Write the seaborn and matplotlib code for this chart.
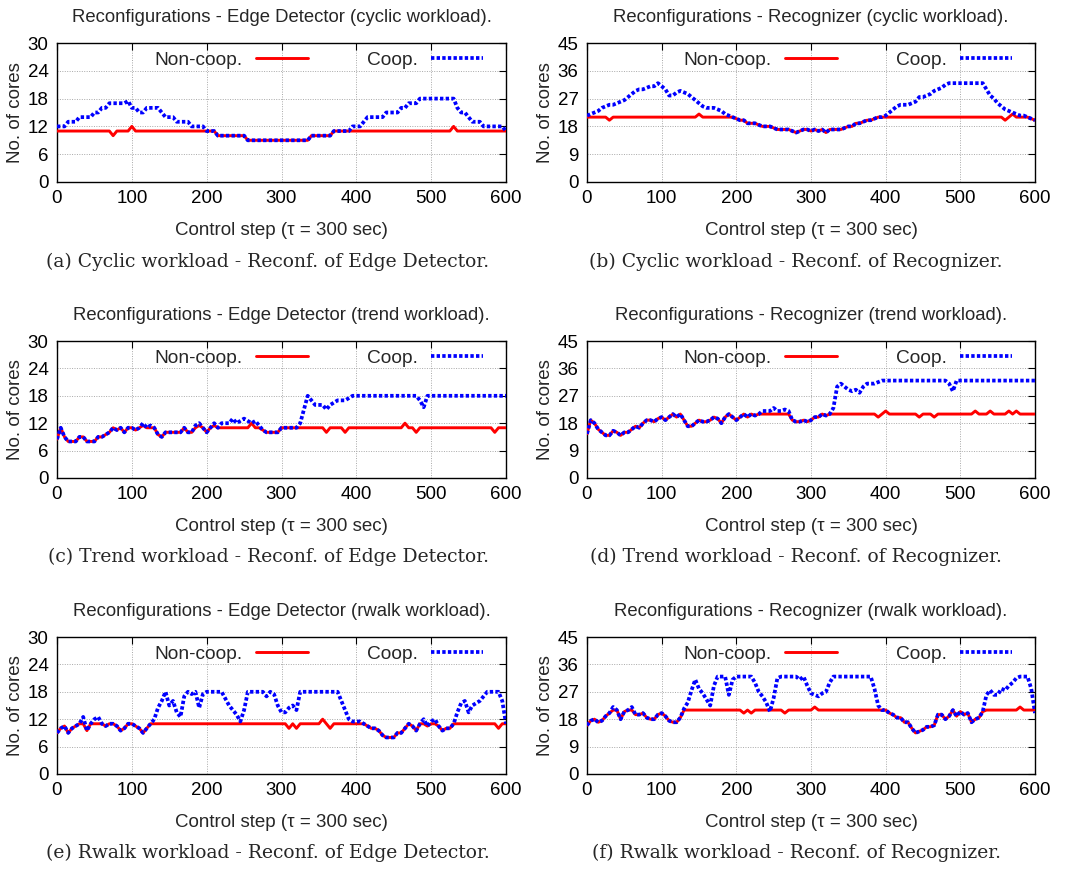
import numpy as np
import pandas as pd
import matplotlib
matplotlib.use("Agg")
import matplotlib.pyplot as plt
import seaborn as sns

# ---------------- data (sampled every 5 control steps) ----------------
steps = np.arange(0, 601, 5)

edge_cyclic_coop = [
    12, 12, 12, 13, 13, 13, 14, 14, 14, 14,
    15, 15, 16, 16, 17, 17, 17, 17, 17, 17.5,
    16, 16, 15, 15, 16, 16, 16, 16, 15, 14,
    14, 14, 13, 13, 13, 13, 12, 12, 12, 12,
    11, 11, 11, 10, 10, 10, 10, 10, 10, 10,
    10, 9, 9, 9, 9, 9, 9, 9, 9, 9,
    9, 9, 9, 9, 9, 9, 9, 9, 10, 10,
    10, 10, 10, 10, 11, 11, 11, 11, 11, 12,
    12, 12, 13, 14, 14, 14, 14, 14, 15, 15,
    15, 15, 16, 16, 17, 17, 17, 18, 18, 18,
    18, 18, 18, 18, 18, 18, 18, 16, 15, 15,
    14, 13, 13, 13, 12, 12, 12, 12, 12, 12,
    11]
edge_cyclic_noncoop = [
    11, 11, 11, 11, 11, 11, 11, 11, 11, 11,
    11, 11, 11, 11, 11, 10, 11, 11, 11, 11,
    12, 11, 11, 11, 11, 11, 11, 11, 11, 11,
    11, 11, 11, 11, 11, 11, 11, 11, 11, 11,
    11, 11, 11, 10, 10, 10, 10, 10, 10, 10,
    10, 9, 9, 9, 9, 9, 9, 9, 9, 9,
    9, 9, 9, 9, 9, 9, 9, 9, 10, 10,
    10, 10, 10, 10, 11, 11, 11, 11, 11, 11,
    11, 11, 11, 11, 11, 11, 11, 11, 11, 11,
    11, 11, 11, 11, 11, 11, 11, 11, 11, 11,
    11, 11, 11, 11, 11, 11, 12, 11, 11, 11,
    11, 11, 11, 11, 11, 11, 11, 11, 11, 11,
    11]

recog_cyclic_coop = [
    21.5, 22, 22.5, 23, 24, 24.5, 25, 25, 25.5, 26,
    26.5, 27.5, 28.5, 29.5, 30, 30, 30.5, 31, 31, 32,
    31, 30, 28, 28, 29, 29.5, 29, 28.5, 27.5, 26.5,
    25.5, 24.5, 24, 24, 24, 23.5, 23, 22, 21.5, 21,
    20.5, 20, 20, 19, 19, 19, 18.5, 18, 18, 18,
    17.5, 17, 17, 17, 17, 16.5, 16, 16.5, 17, 17,
    16.5, 17, 16.5, 17, 16, 17, 17, 17, 17, 17.5,
    18, 18, 19, 19, 19.5, 20, 20, 20.5, 21, 21,
    21.5, 22.5, 23.5, 24.5, 25, 25, 25, 25.5, 26, 27.5,
    27.5, 28, 28.5, 29.5, 30, 30.5, 31.5, 32, 32, 32,
    32, 32, 32, 32, 32, 32, 32, 30, 28, 27,
    25.5, 24.5, 23.5, 23, 22.5, 22, 21.5, 21.5, 21, 20.5,
    20]
recog_cyclic_noncoop = [
    21, 21, 21, 21, 21, 21, 20, 21, 21, 21,
    21, 21, 21, 21, 21, 21, 21, 21, 21, 21,
    21, 21, 21, 21, 21, 21, 21, 21, 21, 21,
    22, 21, 21, 21, 21, 21, 21, 21, 21, 21,
    20.5, 20, 20, 19, 19, 19, 18.5, 18, 18, 18,
    17.5, 17, 17, 17, 17, 16.5, 16, 16.5, 17, 17,
    16.5, 17, 16.5, 17, 16, 17, 17, 17, 17, 17.5,
    18, 18, 19, 19, 19.5, 20, 20, 20.5, 21, 21,
    21, 21, 21, 21, 21, 21, 21, 21, 21, 21,
    21, 21, 21, 21, 21, 21, 21, 21, 21, 21,
    21, 21, 21, 21, 21, 21, 21, 21, 21, 21,
    21, 21, 20, 21, 22, 21, 21, 21, 21, 20.5,
    20]

edge_trend_coop = [
    8.5, 11, 9, 8, 8, 8, 9, 9, 8, 8,
    8, 9, 9, 9.5, 10, 11, 10.5, 11, 10, 11,
    11, 10.5, 11, 12, 11, 11.5, 11, 9.5, 9, 10,
    10, 10, 10, 10, 11, 10, 10, 11.5, 12, 11,
    10, 11, 12, 11, 12, 12, 12, 13, 12, 12.5,
    13, 12.5, 12, 12.5, 11.5, 10.5, 10, 10, 10, 10,
    11, 11, 11, 11, 11, 12, 15, 18, 17, 16,
    16, 16, 15, 16, 16.5, 17, 17, 17, 17.5, 18,
    18, 18, 18, 18, 18, 18, 18, 18, 18, 18,
    18, 18, 18, 18, 18, 18, 18, 17, 15.5, 18,
    18, 18, 18, 18, 18, 18, 18, 18, 18, 18,
    18, 18, 18, 18, 18, 18, 18, 18, 18, 18,
    18]
edge_trend_noncoop = [
    8.5, 11, 9, 8, 8, 8, 9, 9, 8, 8,
    8, 9, 9, 9.5, 10, 11, 10.5, 11, 10, 11,
    11, 10.5, 11, 11.5, 11, 11, 11, 9.5, 9, 10,
    10, 10, 10, 10, 11, 10, 10, 11, 11.5, 11,
    10, 11, 11.5, 11, 11, 11, 11, 11, 11, 11,
    11, 11, 12, 11, 11, 10.5, 10, 10, 10, 10,
    11, 11, 11, 11, 11, 11, 11, 11, 11, 11,
    11, 11, 10, 11, 11, 11, 11, 10, 11, 11,
    11, 11, 11, 11, 11, 11, 11, 11, 11, 11,
    11, 11, 11, 12, 11, 11, 10, 11, 11, 11,
    11, 11, 11, 11, 11, 11, 11, 11, 11, 11,
    11, 11, 11, 11, 11, 11, 11, 10, 11, 11,
    11]

recog_trend_coop = [
    14.5, 19, 18, 16, 15, 14, 14, 15.5, 15, 14,
    15, 15, 16, 17, 16.5, 18, 19, 19, 18.5, 19.5,
    20, 19, 20, 21, 20, 21, 19, 17, 17, 18,
    19, 18.5, 18.5, 19, 20, 19.5, 18, 20, 21, 20,
    19, 20, 21, 20, 21, 20.5, 21, 22, 22, 22,
    23, 22, 22, 22.5, 22, 19, 18.5, 18.5, 19, 18.5,
    19, 20, 20, 21, 20.5, 21, 23, 30, 31, 30,
    29, 28.5, 29, 28, 30, 31, 31, 31, 31.5, 32,
    32, 32, 32, 32, 32, 32, 32, 32, 32, 32,
    32, 32, 32, 32, 32, 32, 32, 31, 28.5, 32,
    32, 32, 32, 32, 32, 32, 32, 32, 32, 32,
    32, 32, 32, 32, 32, 32, 32, 32, 32, 32,
    32]
recog_trend_noncoop = [
    14.5, 19, 18, 16, 15, 14, 14, 15.5, 15, 14,
    15, 15, 16, 17, 16.5, 18, 19, 19, 18.5, 19.5,
    20, 19, 20, 21, 20, 21, 19, 17, 17, 18,
    19, 18.5, 18.5, 19, 20, 19.5, 18, 20, 21, 20,
    19, 20, 21, 20, 21, 20.5, 21, 21, 21, 21,
    21, 21, 21, 21, 21, 19, 18.5, 18.5, 19, 18.5,
    19, 20, 20, 21, 20.5, 21, 21, 21, 21, 21,
    21, 21, 21, 21, 21, 21, 21, 21, 20, 21,
    22, 21, 21, 21, 21, 21, 21, 21, 21, 20,
    21, 21, 21, 20, 21, 21, 21, 21, 21, 21,
    21, 21, 21, 21, 22, 21, 21, 21, 22, 21,
    21, 21, 21, 22, 21, 22, 21, 21, 21, 21,
    21]

edge_rwalk_coop = [
    9, 10, 10.5, 9, 10, 10.5, 11, 12.5, 9.5, 11,
    12, 12.5, 11, 10.5, 11, 11, 10.5, 9.5, 10, 11,
    11, 10.5, 10, 9, 10, 11, 12, 14.5, 16, 18,
    15, 16, 13.5, 12.5, 17, 18, 17.5, 18, 14.5, 17.5,
    18, 18, 18, 18, 18, 16.5, 15, 14, 13, 11.5,
    14, 18, 18, 18, 18, 18, 17, 18, 17.5, 15,
    13.5, 13.5, 14.5, 15, 14, 18, 18, 18, 18, 18,
    18, 18, 18, 18, 18, 18, 16, 14, 12, 11.5,
    11.5, 11.5, 11, 10.5, 10, 10, 9.5, 8.5, 8, 8,
    8, 9, 9, 10, 11, 10.5, 9.5, 11, 12, 10.5,
    11.5, 12, 10.5, 9.5, 10, 10, 11, 13.5, 15.5, 16,
    13.5, 15, 15.5, 16, 17, 18, 18, 18, 18, 16,
    11]
edge_rwalk_noncoop = [
    9, 10, 10.5, 9, 10, 10.5, 11, 11, 9.5, 11,
    11, 11, 11, 10.5, 11, 11, 10.5, 9.5, 10, 11,
    11, 10.5, 10, 9, 10, 11, 11, 11, 11, 11,
    11, 11, 11, 11, 11, 11, 11, 11, 11, 11,
    11, 11, 11, 11, 11, 11, 11, 11, 11, 11,
    11, 11, 11, 11, 11, 11, 11, 11, 11, 11,
    11, 11, 10, 11, 10, 11, 11, 11, 11, 11,
    11, 12, 11, 10, 11, 11, 11, 11, 11, 11,
    11, 11, 11, 10.5, 10, 10, 9.5, 8.5, 8, 8,
    8, 9, 9, 10, 11, 10.5, 9.5, 11, 11, 10.5,
    11, 11, 10.5, 9.5, 10, 10, 11, 11, 11, 11,
    11, 11, 11, 11, 11, 11, 11, 11, 10, 11,
    11]

recog_rwalk_coop = [
    16, 17.5, 18, 17, 17.5, 19, 20, 22, 21, 18,
    20.5, 21, 22, 19.5, 19.5, 20, 18.5, 18, 18, 19.5,
    20, 19, 17.5, 17, 17, 18.5, 21.5, 23.5, 27.5, 31,
    28, 26.5, 24.5, 22.5, 29, 32, 32, 32, 26, 31,
    32, 32, 32, 32, 32, 30, 27, 25.5, 23.5, 20.5,
    25, 31.5, 32, 32, 32, 32, 32, 31, 32, 29,
    26.5, 26, 25.5, 26.5, 27, 30, 32, 32, 32, 32,
    32, 32, 32, 32, 32, 32, 32, 28, 22.5, 21,
    21, 20, 19.5, 18.5, 18.5, 17, 17, 15, 13.5, 14,
    14.5, 15.5, 15.5, 16, 19.5, 19.5, 18, 19, 21, 19,
    20.5, 19.5, 20, 17, 18, 18.5, 20.5, 26, 27.5, 26,
    26, 28, 27.5, 29, 30, 31.5, 32, 32, 32, 28,
    20]
recog_rwalk_noncoop = [
    16, 17.5, 18, 17, 17.5, 19, 20, 21, 21, 18,
    20.5, 21, 21, 19.5, 19.5, 20, 18.5, 18, 18, 19.5,
    20, 19, 17.5, 17, 17, 18.5, 21, 21, 21, 21,
    21, 21, 21, 21, 21, 21, 21, 21, 21, 21,
    21, 21, 20, 21, 20, 21, 21, 21, 21, 21,
    21, 21, 21, 20, 21, 21, 21, 21, 21, 21,
    21, 22, 21, 21, 21, 21, 21, 21, 21, 21,
    21, 21, 21, 21, 21, 21, 21, 21, 21, 21,
    21, 20, 19.5, 18.5, 18.5, 17, 17, 15, 13.5, 14,
    14.5, 15.5, 15.5, 16, 19.5, 19.5, 18, 19, 21, 19,
    20.5, 19.5, 20, 17, 18, 18.5, 20.5, 21, 21, 21,
    21, 21, 21, 21, 21, 21, 22, 21, 21, 21,
    21]

titles = [
    "Reconfigurations - Edge Detector (cyclic workload).",
    "Reconfigurations - Recognizer (cyclic workload).",
    "Reconfigurations - Edge Detector (trend workload).",
    "Reconfigurations - Recognizer (trend workload).",
    "Reconfigurations - Edge Detector (rwalk workload).",
    "Reconfigurations - Recognizer (rwalk workload).",
]
captions = [
    "(a) Cyclic workload - Reconf. of Edge Detector.",
    "(b) Cyclic workload - Reconf. of Recognizer.",
    "(c) Trend workload - Reconf. of Edge Detector.",
    "(d) Trend workload - Reconf. of Recognizer.",
    "(e) Rwalk workload - Reconf. of Edge Detector.",
    "(f) Rwalk workload - Reconf. of Recognizer.",
]
noncoop_series = [edge_cyclic_noncoop, recog_cyclic_noncoop, edge_trend_noncoop,
                  recog_trend_noncoop, edge_rwalk_noncoop, recog_rwalk_noncoop]
coop_series = [edge_cyclic_coop, recog_cyclic_coop, edge_trend_coop,
               recog_trend_coop, edge_rwalk_coop, recog_rwalk_coop]
edge_yticks = [0, 6, 12, 18, 24, 30]
recog_yticks = [0, 9, 18, 27, 36, 45]
xticks = [0, 100, 200, 300, 400, 500, 600]
x_label = "Control step (\u03c4 = 300 sec)"
y_label = "No. of cores"

# ---------------- styling ----------------
sns.set_style("white")
plt.rcParams["font.family"] = ["Liberation Sans", "DejaVu Sans"]

W, H = 1070, 869
fig = plt.figure(figsize=(W / 100, H / 100), dpi=100)

col_left = [57, 587]
col_width = [449, 448]
row_top = [43, 341, 637]
row_height = [139, 137, 137]
caption_x = [268, 796]
caption_y = [262, 557, 853]

for i in range(6):
    r, c = divmod(i, 2)
    l, w = col_left[c], col_width[c]
    t, h = row_top[r], row_height[r]
    ax = fig.add_axes([l / W, 1 - (t + h) / H, w / W, h / H])

    df = pd.DataFrame({"step": steps,
                       "Non-coop.": noncoop_series[i],
                       "Coop.": coop_series[i]})
    sns.lineplot(data=df, x="step", y="Non-coop.", ax=ax, color="#ff0000",
                 linewidth=2.1, label="Non-coop.", zorder=3)
    sns.lineplot(data=df, x="step", y="Coop.", ax=ax, color="#0000ff",
                 linewidth=2.7, linestyle=(0, (0.9, 0.6)), label="Coop.", zorder=4)

    yt = edge_yticks if c == 0 else recog_yticks
    ax.set_xlim(0, 600)
    ax.set_ylim(yt[0], yt[-1])
    ax.set_xticks(xticks)
    ax.set_yticks(yt)
    ax.tick_params(axis="both", which="major", direction="in", length=5,
                   width=0.8, top=True, right=True, labelsize=13.5, pad=6,
                   colors="black")
    ax.grid(True, color="#a8a8a8", linestyle=(0, (1, 1.5)), linewidth=0.7)
    for sp in ax.spines.values():
        sp.set_visible(True)
        sp.set_color("black")
        sp.set_linewidth(1.0)

    ax.set_xlabel(x_label, fontsize=13.5)
    ax.set_ylabel(y_label, fontsize=13.5)
    ax.xaxis.set_label_coords(0.5, -40 / h)
    ax.yaxis.set_label_coords(-33 / w, 0.5)
    ax.set_title(titles[i], fontsize=13.3, pad=15)

    ax.legend(ncol=2, loc="upper right", bbox_to_anchor=(0.949, 0.94),
              borderaxespad=0, borderpad=0, frameon=False, markerfirst=False,
              handlelength=2.7, handletextpad=0.7, columnspacing=3.1,
              fontsize=13.8)

    fig.text(caption_x[c] / W, 1 - caption_y[r] / H, captions[i],
             ha="center", va="center", fontsize=13.5, family="DejaVu Serif")

fig.savefig("out.png", dpi=100)
